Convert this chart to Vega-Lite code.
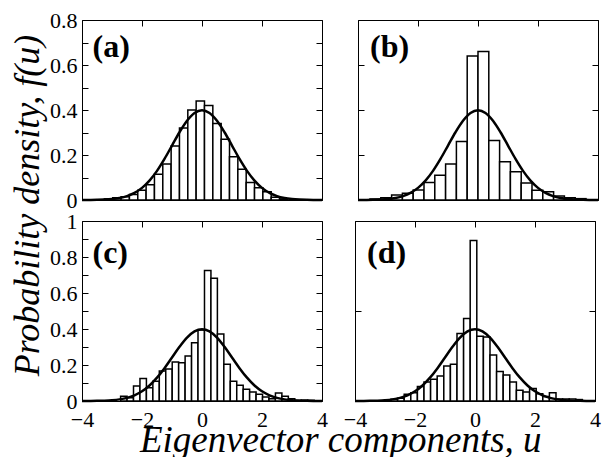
{
  "$schema": "https://vega.github.io/schema/vega-lite/v6.json",
  "padding": {"left": 9, "top": 8, "right": 5, "bottom": 0},
  "config": {
    "view": {"stroke": "black", "strokeWidth": 1},
    "axis": {"labelFont": "Times New Roman, Liberation Serif, serif", "labelFontSize": 22, "labelColor": "black", "tickColor": "black", "tickSize": -6, "domain": false, "grid": false, "labelFlush": false, "labelOverlap": false, "labelBound": false, "minExtent": 0},
    "axisX": {"labelPadding": 14},
    "axisY": {"labelPadding": 11}
  },
  "datasets": {
    "bars": [
      {"p": "a", "u0": -3.253, "u1": -2.975, "f": 0.005},
      {"p": "a", "u0": -2.975, "u1": -2.697, "f": 0.01},
      {"p": "a", "u0": -2.697, "u1": -2.419, "f": 0.015},
      {"p": "a", "u0": -2.419, "u1": -2.141, "f": 0.025},
      {"p": "a", "u0": -2.141, "u1": -1.863, "f": 0.043},
      {"p": "a", "u0": -1.863, "u1": -1.585, "f": 0.068},
      {"p": "a", "u0": -1.585, "u1": -1.307, "f": 0.114},
      {"p": "a", "u0": -1.307, "u1": -1.029, "f": 0.16},
      {"p": "a", "u0": -1.029, "u1": -0.751, "f": 0.24},
      {"p": "a", "u0": -0.751, "u1": -0.473, "f": 0.32},
      {"p": "a", "u0": -0.473, "u1": -0.195, "f": 0.40},
      {"p": "a", "u0": -0.195, "u1": 0.083, "f": 0.44},
      {"p": "a", "u0": 0.083, "u1": 0.361, "f": 0.42},
      {"p": "a", "u0": 0.361, "u1": 0.639, "f": 0.34},
      {"p": "a", "u0": 0.639, "u1": 0.917, "f": 0.27},
      {"p": "a", "u0": 0.917, "u1": 1.195, "f": 0.192},
      {"p": "a", "u0": 1.195, "u1": 1.473, "f": 0.137},
      {"p": "a", "u0": 1.473, "u1": 1.751, "f": 0.078},
      {"p": "a", "u0": 1.751, "u1": 2.029, "f": 0.055},
      {"p": "a", "u0": 2.029, "u1": 2.307, "f": 0.037},
      {"p": "a", "u0": 2.307, "u1": 2.585, "f": 0.012},
      {"p": "a", "u0": 2.585, "u1": 2.863, "f": 0.005},
      {"p": "b", "u0": -3.6, "u1": -3.24, "f": 0.005},
      {"p": "b", "u0": -3.24, "u1": -2.88, "f": 0.01},
      {"p": "b", "u0": -2.88, "u1": -2.52, "f": 0.022},
      {"p": "b", "u0": -2.52, "u1": -2.16, "f": 0.03},
      {"p": "b", "u0": -2.16, "u1": -1.8, "f": 0.044},
      {"p": "b", "u0": -1.8, "u1": -1.44, "f": 0.078},
      {"p": "b", "u0": -1.44, "u1": -1.08, "f": 0.11},
      {"p": "b", "u0": -1.08, "u1": -0.72, "f": 0.16},
      {"p": "b", "u0": -0.72, "u1": -0.36, "f": 0.26},
      {"p": "b", "u0": -0.36, "u1": 0.0, "f": 0.64},
      {"p": "b", "u0": 0.0, "u1": 0.36, "f": 0.66},
      {"p": "b", "u0": 0.36, "u1": 0.72, "f": 0.265},
      {"p": "b", "u0": 0.72, "u1": 1.08, "f": 0.17},
      {"p": "b", "u0": 1.08, "u1": 1.44, "f": 0.126},
      {"p": "b", "u0": 1.44, "u1": 1.8, "f": 0.076},
      {"p": "b", "u0": 1.8, "u1": 2.16, "f": 0.043},
      {"p": "b", "u0": 2.16, "u1": 2.52, "f": 0.037},
      {"p": "b", "u0": 2.52, "u1": 2.88, "f": 0.018},
      {"p": "b", "u0": 2.88, "u1": 3.24, "f": 0.01},
      {"p": "b", "u0": 3.24, "u1": 3.6, "f": 0.006},
      {"p": "c", "u0": -2.713, "u1": -2.498, "f": 0.026},
      {"p": "c", "u0": -2.498, "u1": -2.283, "f": 0.018},
      {"p": "c", "u0": -2.283, "u1": -2.068, "f": 0.084},
      {"p": "c", "u0": -2.068, "u1": -1.853, "f": 0.125},
      {"p": "c", "u0": -1.853, "u1": -1.638, "f": 0.074},
      {"p": "c", "u0": -1.638, "u1": -1.423, "f": 0.11},
      {"p": "c", "u0": -1.423, "u1": -1.208, "f": 0.167},
      {"p": "c", "u0": -1.208, "u1": -0.993, "f": 0.178},
      {"p": "c", "u0": -0.993, "u1": -0.778, "f": 0.216},
      {"p": "c", "u0": -0.778, "u1": -0.563, "f": 0.212},
      {"p": "c", "u0": -0.563, "u1": -0.348, "f": 0.25},
      {"p": "c", "u0": -0.348, "u1": -0.133, "f": 0.323},
      {"p": "c", "u0": -0.133, "u1": 0.083, "f": 0.394},
      {"p": "c", "u0": 0.083, "u1": 0.298, "f": 0.725},
      {"p": "c", "u0": 0.298, "u1": 0.513, "f": 0.682},
      {"p": "c", "u0": 0.513, "u1": 0.728, "f": 0.372},
      {"p": "c", "u0": 0.728, "u1": 0.943, "f": 0.204},
      {"p": "c", "u0": 0.943, "u1": 1.158, "f": 0.11},
      {"p": "c", "u0": 1.158, "u1": 1.373, "f": 0.087},
      {"p": "c", "u0": 1.373, "u1": 1.588, "f": 0.065},
      {"p": "c", "u0": 1.588, "u1": 1.803, "f": 0.05},
      {"p": "c", "u0": 1.803, "u1": 2.018, "f": 0.037},
      {"p": "c", "u0": 2.018, "u1": 2.233, "f": 0.022},
      {"p": "c", "u0": 2.233, "u1": 2.448, "f": 0.013},
      {"p": "c", "u0": 2.448, "u1": 2.663, "f": 0.045},
      {"p": "c", "u0": 2.663, "u1": 2.878, "f": 0.026},
      {"p": "c", "u0": 2.878, "u1": 3.093, "f": 0.013},
      {"p": "c", "u0": 3.093, "u1": 3.308, "f": 0.004},
      {"p": "c", "u0": 3.308, "u1": 3.523, "f": 0.005},
      {"p": "c", "u0": 3.523, "u1": 3.738, "f": 0.004},
      {"p": "d", "u0": -3.02, "u1": -2.8, "f": 0.004},
      {"p": "d", "u0": -2.8, "u1": -2.58, "f": 0.01},
      {"p": "d", "u0": -2.58, "u1": -2.36, "f": 0.015},
      {"p": "d", "u0": -2.36, "u1": -2.14, "f": 0.037},
      {"p": "d", "u0": -2.14, "u1": -1.92, "f": 0.046},
      {"p": "d", "u0": -1.92, "u1": -1.7, "f": 0.08},
      {"p": "d", "u0": -1.7, "u1": -1.48, "f": 0.106},
      {"p": "d", "u0": -1.48, "u1": -1.26, "f": 0.121},
      {"p": "d", "u0": -1.26, "u1": -1.04, "f": 0.139},
      {"p": "d", "u0": -1.04, "u1": -0.82, "f": 0.195},
      {"p": "d", "u0": -0.82, "u1": -0.6, "f": 0.204},
      {"p": "d", "u0": -0.6, "u1": -0.38, "f": 0.375},
      {"p": "d", "u0": -0.38, "u1": -0.16, "f": 0.459},
      {"p": "d", "u0": -0.16, "u1": 0.06, "f": 0.892},
      {"p": "d", "u0": 0.06, "u1": 0.28, "f": 0.36},
      {"p": "d", "u0": 0.28, "u1": 0.5, "f": 0.355},
      {"p": "d", "u0": 0.5, "u1": 0.72, "f": 0.256},
      {"p": "d", "u0": 0.72, "u1": 0.94, "f": 0.164},
      {"p": "d", "u0": 0.94, "u1": 1.16, "f": 0.145},
      {"p": "d", "u0": 1.16, "u1": 1.38, "f": 0.105},
      {"p": "d", "u0": 1.38, "u1": 1.6, "f": 0.06},
      {"p": "d", "u0": 1.6, "u1": 1.82, "f": 0.05},
      {"p": "d", "u0": 1.82, "u1": 2.04, "f": 0.07},
      {"p": "d", "u0": 2.04, "u1": 2.26, "f": 0.04},
      {"p": "d", "u0": 2.26, "u1": 2.48, "f": 0.025},
      {"p": "d", "u0": 2.48, "u1": 2.7, "f": 0.046},
      {"p": "d", "u0": 2.7, "u1": 2.92, "f": 0.011},
      {"p": "d", "u0": 2.92, "u1": 3.14, "f": 0.011},
      {"p": "d", "u0": 3.14, "u1": 3.36, "f": 0.011},
      {"p": "d", "u0": 3.36, "u1": 3.58, "f": 0.008}
    ],
    "curve": [
      {"u": -4.0, "f": 0.0001}, {"u": -3.75, "f": 0.0004}, {"u": -3.5, "f": 0.0009}, {"u": -3.25, "f": 0.002},
      {"u": -3.0, "f": 0.0044}, {"u": -2.75, "f": 0.0091}, {"u": -2.5, "f": 0.0175}, {"u": -2.25, "f": 0.0317},
      {"u": -2.0, "f": 0.054}, {"u": -1.75, "f": 0.0863}, {"u": -1.5, "f": 0.1295}, {"u": -1.25, "f": 0.1826},
      {"u": -1.0, "f": 0.242}, {"u": -0.75, "f": 0.3011}, {"u": -0.5, "f": 0.3521}, {"u": -0.25, "f": 0.3867},
      {"u": 0.0, "f": 0.3989},
      {"u": 0.25, "f": 0.3867}, {"u": 0.5, "f": 0.3521}, {"u": 0.75, "f": 0.3011}, {"u": 1.0, "f": 0.242},
      {"u": 1.25, "f": 0.1826}, {"u": 1.5, "f": 0.1295}, {"u": 1.75, "f": 0.0863}, {"u": 2.0, "f": 0.054},
      {"u": 2.25, "f": 0.0317}, {"u": 2.5, "f": 0.0175}, {"u": 2.75, "f": 0.0091}, {"u": 3.0, "f": 0.0044},
      {"u": 3.25, "f": 0.002}, {"u": 3.5, "f": 0.0009}, {"u": 3.75, "f": 0.0004}, {"u": 4.0, "f": 0.0001}
    ]
  },
  "title": {"text": "Eigenvector components, u", "orient": "bottom", "font": "Times New Roman, Liberation Serif, serif", "fontSize": 37, "fontStyle": "italic", "fontWeight": "normal", "color": "black", "anchor": "middle", "offset": -8, "dx": 34},
  "vconcat": [
    {
      "title": {"text": "Probability density, f(u)", "orient": "left", "font": "Times New Roman, Liberation Serif, serif", "fontSize": 36, "fontStyle": "italic", "fontWeight": "normal", "color": "black", "anchor": "middle", "offset": 2, "dx": 14},
      "spacing": -3,
      "vconcat": [
        {
          "spacing": 24,
          "hconcat": [
            {
              "width": 240, "height": 180,
              "resolve": {"axis": {"x": "independent", "y": "independent"}},
              "layer": [
                {"data": {"name": "bars"}, "transform": [{"filter": "datum.p == 'a'"}],
                 "mark": {"type": "rect", "fill": "white", "stroke": "black", "strokeWidth": 1.5},
                 "encoding": {
                   "x": {"field": "u0", "type": "quantitative", "scale": {"domain": [-4, 4], "nice": false, "zero": false}, "axis": {"orient": "bottom", "values": [-4, -2, 0, 2, 4], "labels": false, "title": null}},
                   "x2": {"field": "u1"},
                   "y": {"field": "f", "type": "quantitative", "scale": {"domain": [0, 0.8], "nice": false}, "axis": {"orient": "left", "values": [0, 0.1, 0.2, 0.3, 0.4, 0.5, 0.6, 0.7, 0.8], "labelExpr": "round(datum.value*10) % 2 == 0 ? format(datum.value, '.1~f') : ''", "title": null}},
                   "y2": {"datum": 0}
                 }},
                {"data": {"name": "curve"},
                 "mark": {"type": "line", "color": "black", "strokeWidth": 2.5, "interpolate": "monotone"},
                 "encoding": {
                   "x": {"field": "u", "type": "quantitative", "axis": {"orient": "top", "values": [-4, -2, 0, 2, 4], "labels": false, "title": null}},
                   "y": {"field": "f", "type": "quantitative", "axis": {"orient": "right", "values": [0, 0.1, 0.2, 0.3, 0.4, 0.5, 0.6, 0.7, 0.8], "labels": false, "title": null}}
                 }},
                {"data": {"values": [{"label": "(a)"}]},
                 "mark": {"type": "text", "font": "Times New Roman, Liberation Serif, serif", "fontSize": 32, "fontWeight": "bold", "align": "left", "baseline": "middle", "color": "black"},
                 "encoding": {
                   "text": {"field": "label"},
                   "x": {"datum": -3.65, "type": "quantitative", "axis": null},
                   "y": {"datum": 0.68, "type": "quantitative", "axis": null}
                 }}
              ]
            },
            {
              "width": 240, "height": 180,
              "resolve": {"axis": {"x": "independent", "y": "independent"}},
              "layer": [
                {"data": {"name": "bars"}, "transform": [{"filter": "datum.p == 'b'"}],
                 "mark": {"type": "rect", "fill": "white", "stroke": "black", "strokeWidth": 1.5},
                 "encoding": {
                   "x": {"field": "u0", "type": "quantitative", "scale": {"domain": [-4, 4], "nice": false, "zero": false}, "axis": {"orient": "bottom", "values": [-4, -2, 0, 2, 4], "labels": false, "title": null}},
                   "x2": {"field": "u1"},
                   "y": {"field": "f", "type": "quantitative", "scale": {"domain": [0, 0.8], "nice": false}, "axis": {"orient": "left", "values": [0, 0.2, 0.4, 0.6, 0.8], "labels": false, "title": null}},
                   "y2": {"datum": 0}
                 }},
                {"data": {"name": "curve"},
                 "mark": {"type": "line", "color": "black", "strokeWidth": 2.5, "interpolate": "monotone"},
                 "encoding": {
                   "x": {"field": "u", "type": "quantitative", "axis": {"orient": "top", "values": [-4, -2, 0, 2, 4], "labels": false, "title": null}},
                   "y": {"field": "f", "type": "quantitative", "axis": {"orient": "right", "values": [0, 0.2, 0.4, 0.6, 0.8], "labels": false, "title": null}}
                 }},
                {"data": {"values": [{"label": "(b)"}]},
                 "mark": {"type": "text", "font": "Times New Roman, Liberation Serif, serif", "fontSize": 32, "fontWeight": "bold", "align": "left", "baseline": "middle", "color": "black"},
                 "encoding": {
                   "text": {"field": "label"},
                   "x": {"datum": -3.6, "type": "quantitative", "axis": null},
                   "y": {"datum": 0.68, "type": "quantitative", "axis": null}
                 }}
              ]
            }
          ]
        },
        {
          "spacing": 14,
          "hconcat": [
            {
              "width": 240, "height": 180,
              "resolve": {"axis": {"x": "independent", "y": "independent"}},
              "layer": [
                {"data": {"name": "bars"}, "transform": [{"filter": "datum.p == 'c'"}],
                 "mark": {"type": "rect", "fill": "white", "stroke": "black", "strokeWidth": 1.5},
                 "encoding": {
                   "x": {"field": "u0", "type": "quantitative", "scale": {"domain": [-4, 4], "nice": false, "zero": false}, "axis": {"orient": "bottom", "values": [-4, -2, 0, 2, 4], "title": null}},
                   "x2": {"field": "u1"},
                   "y": {"field": "f", "type": "quantitative", "scale": {"domain": [0, 1], "nice": false}, "axis": {"orient": "left", "values": [0, 0.1, 0.2, 0.3, 0.4, 0.5, 0.6, 0.7, 0.8, 0.9, 1], "labelExpr": "round(datum.value*10) % 2 == 0 ? format(datum.value, '.1~f') : ''", "title": null}},
                   "y2": {"datum": 0}
                 }},
                {"data": {"name": "curve"},
                 "mark": {"type": "line", "color": "black", "strokeWidth": 2.5, "interpolate": "monotone"},
                 "encoding": {
                   "x": {"field": "u", "type": "quantitative", "axis": {"orient": "top", "values": [-4, -2, 0, 2, 4], "labels": false, "title": null}},
                   "y": {"field": "f", "type": "quantitative", "axis": {"orient": "right", "values": [0, 0.1, 0.2, 0.3, 0.4, 0.5, 0.6, 0.7, 0.8, 0.9, 1], "labels": false, "title": null}}
                 }},
                {"data": {"values": [{"label": "(c)"}]},
                 "mark": {"type": "text", "font": "Times New Roman, Liberation Serif, serif", "fontSize": 32, "fontWeight": "bold", "align": "left", "baseline": "middle", "color": "black"},
                 "encoding": {
                   "text": {"field": "label"},
                   "x": {"datum": -3.65, "type": "quantitative", "axis": null},
                   "y": {"datum": 0.82, "type": "quantitative", "axis": null}
                 }}
              ]
            },
            {
              "width": 240, "height": 180,
              "resolve": {"axis": {"x": "independent", "y": "independent"}},
              "layer": [
                {"data": {"name": "bars"}, "transform": [{"filter": "datum.p == 'd'"}],
                 "mark": {"type": "rect", "fill": "white", "stroke": "black", "strokeWidth": 1.5},
                 "encoding": {
                   "x": {"field": "u0", "type": "quantitative", "scale": {"domain": [-4, 4], "nice": false, "zero": false}, "axis": {"orient": "bottom", "values": [-4, -2, 0, 2, 4], "title": null}},
                   "x2": {"field": "u1"},
                   "y": {"field": "f", "type": "quantitative", "scale": {"domain": [0, 1], "nice": false}, "axis": {"orient": "left", "values": [0, 0.5, 1], "labels": false, "title": null}},
                   "y2": {"datum": 0}
                 }},
                {"data": {"name": "curve"},
                 "mark": {"type": "line", "color": "black", "strokeWidth": 2.5, "interpolate": "monotone"},
                 "encoding": {
                   "x": {"field": "u", "type": "quantitative", "axis": {"orient": "top", "values": [-4, -2, 0, 2, 4], "labels": false, "title": null}},
                   "y": {"field": "f", "type": "quantitative", "axis": {"orient": "right", "values": [0, 0.5, 1], "labels": false, "title": null}}
                 }},
                {"data": {"values": [{"label": "(d)"}]},
                 "mark": {"type": "text", "font": "Times New Roman, Liberation Serif, serif", "fontSize": 32, "fontWeight": "bold", "align": "left", "baseline": "middle", "color": "black"},
                 "encoding": {
                   "text": {"field": "label"},
                   "x": {"datum": -3.6, "type": "quantitative", "axis": null},
                   "y": {"datum": 0.82, "type": "quantitative", "axis": null}
                 }}
              ]
            }
          ]
        }
      ]
    }
  ]
}
